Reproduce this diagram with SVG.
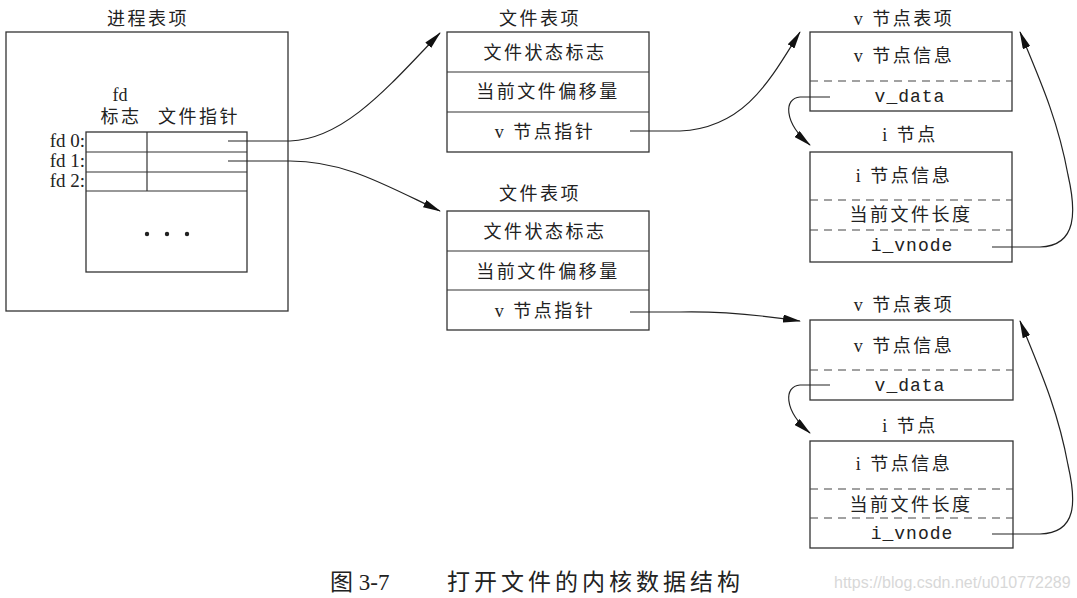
<svg xmlns="http://www.w3.org/2000/svg" width="1077" height="598" viewBox="0 0 1077 598">
<defs>
<marker id="ah" viewBox="0 0 18 8" refX="17" refY="4" markerWidth="18" markerHeight="8" markerUnits="userSpaceOnUse" orient="auto">
<path d="M0,0 L18,4 L0,8 Z" fill="#111"/>
</marker>
<style>
.box{fill:none;stroke:#333;stroke-width:1.3}
.ln{fill:none;stroke:#333;stroke-width:1.2}
.dash{fill:none;stroke:#444;stroke-width:1.2;stroke-dasharray:8,6}
.cn{fill:none;stroke:#222;stroke-width:1.2}
.t{font-family:"Liberation Serif","Noto Sans CJK SC",serif;font-size:18px;fill:#222;text-anchor:middle;letter-spacing:2.5px}
.m{font-family:"Liberation Mono",monospace;font-size:18px;fill:#222;text-anchor:middle;letter-spacing:1px}
.fd{font-family:"Liberation Serif","Noto Sans CJK SC",serif;font-size:19px;fill:#222;text-anchor:end}
</style>
</defs>
<rect width="1077" height="598" fill="#fff"/>

<g id="process-table">
<text class="t" x="148" y="25">进程表项</text>
<rect class="box" x="6" y="32" width="282" height="279"/>
<rect class="box" x="86" y="132" width="161" height="140"/>
<line class="ln" x1="86" y1="152" x2="247" y2="152"/>
<line class="ln" x1="86" y1="172" x2="247" y2="172"/>
<line class="ln" x1="86" y1="191" x2="247" y2="191"/>
<line class="ln" x1="147" y1="132" x2="147" y2="191"/>
<text class="t" x="120" y="101" style="letter-spacing:0">fd</text>
<text class="t" x="121" y="123">标志</text>
<text class="t" x="199" y="123">文件指针</text>
<text class="fd" x="85" y="147">fd 0:</text>
<text class="fd" x="85" y="167">fd 1:</text>
<text class="fd" x="85" y="187">fd 2:</text>
<circle cx="147" cy="234" r="2.2" fill="#222"/>
<circle cx="167" cy="234" r="2.2" fill="#222"/>
<circle cx="187" cy="234" r="2.2" fill="#222"/>
</g>

<g id="file-table-1">
<text class="t" x="540" y="25">文件表项</text>
<rect class="box" x="447" y="32" width="202" height="120"/>
<line class="ln" x1="447" y1="72" x2="649" y2="72"/>
<line class="ln" x1="447" y1="112" x2="649" y2="112"/>
<text class="t" x="545" y="59">文件状态标志</text>
<text class="t" x="548" y="98">当前文件偏移量</text>
<text class="t" x="545" y="138">v 节点指针</text>
</g>

<g id="file-table-2">
<text class="t" x="540" y="200">文件表项</text>
<rect class="box" x="447" y="211" width="202" height="119"/>
<line class="ln" x1="447" y1="251" x2="649" y2="251"/>
<line class="ln" x1="447" y1="290" x2="649" y2="290"/>
<text class="t" x="545" y="238">文件状态标志</text>
<text class="t" x="548" y="278">当前文件偏移量</text>
<text class="t" x="545" y="317">v 节点指针</text>
</g>

<g id="vnode-1">
<text class="t" x="904" y="25">v 节点表项</text>
<rect class="box" x="810" y="32" width="202" height="79"/>
<line class="dash" x1="810" y1="81" x2="1012" y2="81"/>
<text class="t" x="904" y="62">v 节点信息</text>
<text class="m" x="910" y="102">v_data</text>
</g>

<g id="inode-1">
<text class="t" x="910" y="141">i 节点</text>
<rect class="box" x="810" y="152" width="202" height="110"/>
<line class="dash" x1="810" y1="200" x2="1012" y2="200"/>
<line class="dash" x1="810" y1="230" x2="1012" y2="230"/>
<text class="t" x="904" y="182">i 节点信息</text>
<text class="t" x="911" y="221">当前文件长度</text>
<text class="m" x="912" y="251">i_vnode</text>
</g>

<g id="vnode-2">
<text class="t" x="904" y="311">v 节点表项</text>
<rect class="box" x="810" y="320" width="203" height="80"/>
<line class="dash" x1="810" y1="370" x2="1013" y2="370"/>
<text class="t" x="904" y="352">v 节点信息</text>
<text class="m" x="910" y="391">v_data</text>
</g>

<g id="inode-2">
<text class="t" x="910" y="432">i 节点</text>
<rect class="box" x="810" y="441" width="203" height="107"/>
<line class="dash" x1="810" y1="489" x2="1013" y2="489"/>
<line class="dash" x1="810" y1="518" x2="1013" y2="518"/>
<text class="t" x="904" y="470">i 节点信息</text>
<text class="t" x="911" y="511">当前文件长度</text>
<text class="m" x="912" y="539">i_vnode</text>
</g>

<g id="connectors">
<path class="cn" d="M228,141 L290,141 C345,139 390,85 440,33" marker-end="url(#ah)"/>
<path class="cn" d="M228,161 L290,161 C345,161 385,185 440,211" marker-end="url(#ah)"/>
<path class="cn" d="M630,131 L680,131 C745,128 770,80 800,32" marker-end="url(#ah)"/>
<path class="cn" d="M630,312 L680,312 C720,311 760,315 800,321" marker-end="url(#ah)"/>
<path class="cn" d="M830,97 L800,97 C784,98 783,122 810,145" marker-end="url(#ah)"/>
<path class="cn" d="M830,385 L800,385 C784,386 783,410 810,433" marker-end="url(#ah)"/>
<path class="cn" d="M992,247 L1040,247 C1078,246 1076,210 1068,175 C1058,120 1040,80 1020,32" marker-end="url(#ah)"/>
<path class="cn" d="M992,534 L1040,534 C1078,533 1076,500 1068,465 C1058,410 1040,370 1020,321" marker-end="url(#ah)"/>
</g>

<g id="caption">
<text x="330" y="590" style="font-family:'Liberation Serif','Noto Sans CJK SC',serif;font-size:23px;fill:#222">图 3-7</text>
<text x="447" y="590" style="font-family:'Liberation Serif','Noto Sans CJK SC',serif;font-size:23px;fill:#222;letter-spacing:4px">打开文件的内核数据结构</text>
<text x="834" y="588" style="font-family:'Liberation Sans',sans-serif;font-size:16px;fill:#d8d8d8">https://blog.csdn.net/u010772289</text>
</g>
</svg>
